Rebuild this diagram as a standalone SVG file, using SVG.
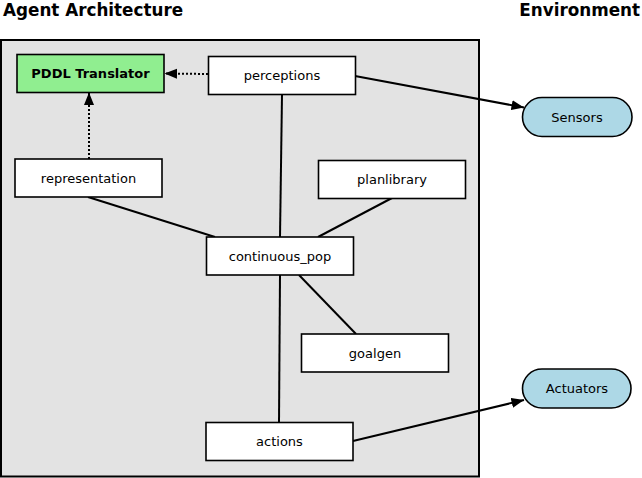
<svg xmlns="http://www.w3.org/2000/svg" width="642" height="478" viewBox="0 0 642 478">
<style>
.title{font-family:"DejaVu Sans",sans-serif;font-weight:bold;font-size:16.8px;fill:#000}
.box{fill:#fff;stroke:#000;stroke-width:1.6}
.lbl{font-family:"DejaVu Sans",sans-serif;font-size:13px;fill:#000;text-anchor:middle}
.edge{stroke:#000;stroke-width:2;fill:none}
.dot{stroke:#000;stroke-width:2;fill:none;stroke-dasharray:2,2}
</style>
<defs>
<marker id="arr" markerUnits="userSpaceOnUse" markerWidth="14" markerHeight="12" refX="12.5" refY="5" orient="auto">
<path d="M0,0 L12.5,5 L0,10 z" fill="#000"/>
</marker>
</defs>
<rect width="642" height="478" fill="#fff"/>
<text class="title" x="3" y="16">Agent Architecture</text>
<text class="title" x="640" y="16" text-anchor="end">Environment</text>
<g id="cluster">
<rect x="1" y="40" width="478" height="436.5" fill="#e3e3e3" stroke="#000" stroke-width="2"/>
</g>
<g id="connectors">
<line class="dot" x1="208" y1="74" x2="164.5" y2="73.5" marker-end="url(#arr)"/>
<line class="dot" x1="89" y1="159" x2="89" y2="92.5" marker-end="url(#arr)"/>
<line class="edge" x1="282" y1="94.5" x2="280" y2="237"/>
<line class="edge" x1="88" y1="197" x2="215" y2="237"/>
<line class="edge" x1="392" y1="198" x2="318" y2="237"/>
<line class="edge" x1="299" y1="275" x2="356" y2="334"/>
<line class="edge" x1="280" y1="275" x2="279" y2="422"/>
<line class="edge" x1="355" y1="76" x2="524" y2="107.5" marker-end="url(#arr)"/>
<line class="edge" x1="353" y1="441" x2="524" y2="400" marker-end="url(#arr)"/>
</g>
<g id="pddl">
<rect x="17" y="54.5" width="147" height="38" fill="#90ee90" stroke="#000" stroke-width="1.6"/>
<text class="lbl" x="90.5" y="78" font-weight="bold" font-size="12.5">PDDL Translator</text>
</g>
<g id="perceptions">
<rect class="box" x="208.5" y="56.5" width="147" height="38"/>
<text class="lbl" x="282" y="80">perceptions</text>
</g>
<g id="representation">
<rect class="box" x="15" y="159" width="147" height="38"/>
<text class="lbl" x="88.5" y="182.5">representation</text>
</g>
<g id="planlibrary">
<rect class="box" x="318.5" y="160.5" width="147" height="38"/>
<text class="lbl" x="392" y="184">planlibrary</text>
</g>
<g id="continuous_pop">
<rect class="box" x="206.5" y="237" width="147" height="38"/>
<text class="lbl" x="280" y="260.5">continuous_pop</text>
</g>
<g id="goalgen">
<rect class="box" x="301.5" y="334" width="147" height="38"/>
<text class="lbl" x="375" y="357.5">goalgen</text>
</g>
<g id="actions">
<rect class="box" x="206" y="422.5" width="147" height="38"/>
<text class="lbl" x="279.5" y="446">actions</text>
</g>
<g id="sensors">
<rect x="522.5" y="97.5" width="109.5" height="39" rx="19.5" fill="#add8e6" stroke="#000" stroke-width="1.6"/>
<text class="lbl" x="577" y="121.5">Sensors</text>
</g>
<g id="actuators">
<rect x="522.5" y="369" width="108.5" height="39" rx="19.5" fill="#add8e6" stroke="#000" stroke-width="1.6"/>
<text class="lbl" x="577" y="393">Actuators</text>
</g>
</svg>
